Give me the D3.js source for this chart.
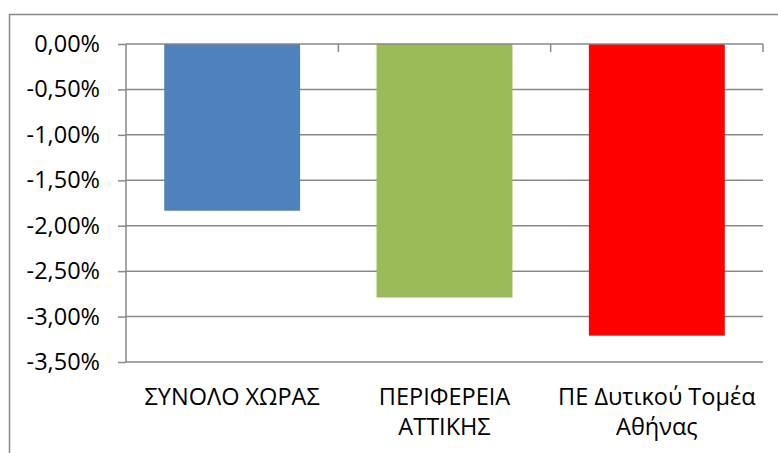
<!DOCTYPE html>
<html>
<head>
<meta charset="utf-8">
<script src="https://cdn.jsdelivr.net/npm/d3@7"></script>
<style>
  body { margin: 0; background: #fff; }
  text { font-family: "Open Sans", sans-serif; fill: #000; }
</style>
</head>
<body>
<div id="chart"></div>
<script>
const w = 778;
const h = 453;

// data
const categories = ["ΣΥΝΟΛΟ ΧΩΡΑΣ", "ΠΕΡΙΦΕΡΕΙΑ ΑΤΤΙΚΗΣ", "ΠΕ Δυτικού Τομέα Αθήνας"];
const values = [-1.835, -2.79, -3.21];
const barColors = ["#4F81BD", "#9BBB59", "#FF0000"];
const yTicks = [0, -0.5, -1, -1.5, -2, -2.5, -3, -3.5];

const margin = {top: 44, left: 126, right: 15, bottom: 91};
const fontSize = "23.5px";

var svg = d3.select("#chart")
            .append("svg")
            .attr("width", w)
            .attr("height", h);

// outer frame (runs past the right and bottom edges)
svg.append("rect")
   .attr("x", 9.5)
   .attr("y", 14.5)
   .attr("width", 800)
   .attr("height", 500)
   .attr("fill", "#fff")
   .attr("stroke", "#898989")
   .attr("stroke-width", 1.5);

var x = d3.scaleBand()
          .domain(categories)
          .range([margin.left, w - margin.right])
          .paddingInner(0.36)
          .paddingOuter(0.18);

var y = d3.scaleLinear()
          .domain([0, -3.5])
          .range([margin.top, h - margin.bottom]);

var fmt = d => d.toFixed(2).replace(".", ",") + "%";

// gridlines
svg.append("g")
   .selectAll("line")
   .data(yTicks.slice(1))
   .enter()
   .append("line")
   .attr("x1", margin.left)
   .attr("x2", w - margin.right)
   .attr("y1", d => y(d))
   .attr("y2", d => y(d))
   .attr("stroke", "#898989")
   .attr("stroke-width", 1.5);

// bars
svg.append("g")
   .selectAll("rect")
   .data(values)
   .enter()
   .append("rect")
   .attr("x", (d, i) => x(categories[i]))
   .attr("y", y(0))
   .attr("width", x.bandwidth())
   .attr("height", d => y(d) - y(0))
   .attr("fill", (d, i) => barColors[i]);

// y axis
var yAxis = d3.axisLeft(y)
              .tickValues(yTicks)
              .tickFormat(fmt)
              .tickSize(8)
              .tickPadding(18);

var gy = svg.append("g")
   .attr("transform", "translate(" + margin.left + ",0)")
   .call(yAxis);
gy.select(".domain").attr("stroke", "#898989").attr("stroke-width", 1.5)
  .attr("d", "M0," + y(0) + "V" + y(-3.5));
gy.selectAll(".tick line").attr("stroke", "#898989").attr("stroke-width", 1.5);
gy.selectAll(".tick text")
  .style("font-size", fontSize)
  .style("font-family", "'Open Sans', sans-serif")
  .attr("fill", "#000");

// category axis sits on the zero line, ticks at band edges
var x0 = margin.left, x1 = w - margin.right;
svg.append("line")
   .attr("x1", x0).attr("x2", x1)
   .attr("y1", y(0)).attr("y2", y(0))
   .attr("stroke", "#898989")
   .attr("stroke-width", 1.5);

var step = (x1 - x0) / categories.length;
svg.append("g")
   .selectAll("line")
   .data(d3.range(1, categories.length + 1))
   .enter()
   .append("line")
   .attr("x1", d => x0 + d * step)
   .attr("x2", d => x0 + d * step)
   .attr("y1", y(0))
   .attr("y2", y(0) + 8)
   .attr("stroke", "#898989")
   .attr("stroke-width", 1.5);

// category labels, wrapped to the band step
var labels = svg.append("g")
   .selectAll("text")
   .data(categories)
   .enter()
   .append("text")
   .attr("x", d => x(d) + x.bandwidth() / 2)
   .attr("y", 405)
   .attr("text-anchor", "middle")
   .style("font-size", fontSize);

labels.each(function(d) {
  var t = d3.select(this);
  var words = d.split(" ");
  var lines = [];
  var cur = [];
  words.forEach(function(wd) {
    cur.push(wd);
    t.text(cur.join(" "));
    if (textLen(t) > step + 10 && cur.length > 1) {
      cur.pop();
      lines.push(cur.join(" "));
      cur = [wd];
    }
  });
  lines.push(cur.join(" "));
  t.text(null);
  lines.forEach(function(l, i) {
    t.append("tspan")
     .attr("x", t.attr("x"))
     .attr("dy", i === 0 ? 0 : 30)
     .text(l);
  });
});

function textLen(t) { return t.node().getComputedTextLength(); }
</script>
</body>
</html>
